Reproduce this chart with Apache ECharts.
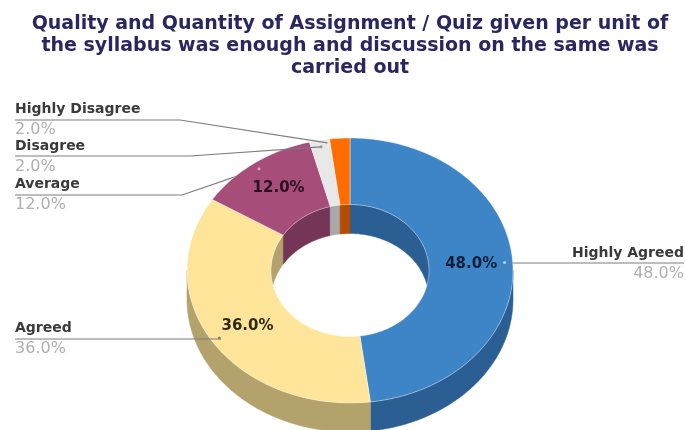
<!DOCTYPE html>
<html><head><meta charset="utf-8">
<style>html,body{margin:0;padding:0;background:#fff}#c{width:685px;height:430px}</style>
<script src="https://cdn.jsdelivr.net/npm/echarts@6/dist/echarts.min.js"></script>
</head><body><div id="c"></div>
<script>
const titleLines = ["Quality and Quantity of Assignment / Quiz given per unit of","the syllabus was enough and discussion on the same was","carried out"];
const categories = ["Highly Agreed","Agreed","Average","Disagree","Highly Disagree"];
const values = [48,36,12,2,2];
const topColors = ["#3d85c6","#ffe599","#a64d79","#e8e8e8","#ff6d01"];
const wallColors = ["#2b5f94","#b3a26b","#743556","#a8a8a8","#b34c01"];
const valueLabelColors = ["#0b1f3d","#2e2a1a","#2a0f20",null,null];
const leaderOverSlice = [false,true,false,true,true];
const leaderReach = [1,1,1,1,.92];
const tipDotColors = ["#b5d3ee","#8a8468","#e9a9c9","#8f979b",null];
const labelAnchors = [
  {side:"right",lineY:263,elbow:505,nameY:253,valY:274},
  {side:"left",lineY:339,elbow:220,nameY:328,valY:349},
  {side:"left",lineY:195,elbow:182,nameY:184,valY:205},
  {side:"left",lineY:156,elbow:190,nameY:146,valY:167},
  {side:"left",lineY:120,elbow:180,nameY:109,valY:130}
];
const G = {cx:350,cy:270.5,rx:163,ry:132.5,irx:79,iry:66,depth:29};
const total = values.reduce((a,b)=>a+b,0);
let run = 0;
const spans = values.map(v=>{const s=[run/total*360,(run+v)/total*360];run+=v;return s;});
const pt=(deg,rx,ry,dy)=>{const a=deg*Math.PI/180;return [G.cx+rx*Math.sin(a),G.cy-ry*Math.cos(a)+(dy||0)];};
function arc(a,b,rx,ry,dy){const n=Math.max(2,Math.ceil(Math.abs(b-a)));const o=[];for(let i=0;i<=n;i++)o.push(pt(a+(b-a)*i/n,rx,ry,dy));return o;}
const band=(a,b,rx1,ry1,d1,rx2,ry2,d2)=>arc(a,b,rx1,ry1,d1).concat(arc(b,a,rx2,ry2,d2));

function outerWall(p,api){
  const a=Math.max(api.value(0),90),b=Math.min(api.value(1),270);
  if(b<=a) return {type:'group',children:[]};
  return {type:'polygon',shape:{points:band(a,b,G.rx,G.ry,0,G.rx,G.ry,G.depth)},style:{fill:wallColors[p.dataIndex],stroke:wallColors[p.dataIndex],lineWidth:.5}};
}
function innerWall(p,api){
  const s=api.value(0),e=api.value(1),kids=[];
  [[s,Math.min(e,90)],[Math.max(s,270),e]].forEach(r=>{
    if(r[1]>r[0]) kids.push({type:'polygon',shape:{points:band(r[0],r[1],G.irx,G.iry,0,G.irx,G.iry,G.depth)},style:{fill:wallColors[p.dataIndex],stroke:wallColors[p.dataIndex],lineWidth:.5}});
  });
  return {type:'group',children:kids};
}
function topFace(p,api){
  return {type:'polygon',shape:{points:band(api.value(0),api.value(1),G.rx,G.ry,0,G.irx,G.iry,0)},style:{fill:topColors[p.dataIndex],stroke:'#ffffff',lineWidth:.4}};
}
function leaderPath(i,mid){
  const A=labelAnchors[i],right=A.side==='right',edgeX=right?684:15;
  const tip=pt(mid,G.rx*.95,G.ry*.95),r=leaderReach[i];
  const end=[A.elbow+(tip[0]-A.elbow)*r,A.lineY+(tip[1]-A.lineY)*r];
  return {tip:tip,points:[[edgeX,A.lineY],[A.elbow,A.lineY],end]};
}
const leaderLine=pts=>({type:'polyline',shape:{points:pts},style:{fill:null,stroke:'#7d7d7d',lineWidth:1.2}});
function leadersUnder(p,api){
  const i=p.dataIndex;
  if(leaderOverSlice[i]) return {type:'group',children:[]};
  return leaderLine(leaderPath(i,(api.value(0)+api.value(1))/2).points);
}
function labels(p,api){
  const i=p.dataIndex,mid=(api.value(0)+api.value(1))/2,A=labelAnchors[i],right=A.side==='right';
  const edgeX=right?684:15,kids=[],L=leaderPath(i,mid);
  if(leaderOverSlice[i]) kids.push(leaderLine(L.points));
  if(tipDotColors[i]) kids.push({type:'circle',shape:{cx:L.tip[0],cy:L.tip[1],r:1.5},style:{fill:tipDotColors[i]}});
  const align=right?'right':'left';
  kids.push({type:'text',style:{x:edgeX,y:A.nameY,text:categories[i],align:align,verticalAlign:'middle',font:'bold 14px "DejaVu Sans"',fill:'#3a3a3a'}});
  kids.push({type:'text',style:{x:edgeX,y:A.valY,text:values[i].toFixed(1)+'%',align:align,verticalAlign:'middle',font:'16px "DejaVu Sans"',fill:'#b0b0b0'}});
  if(valueLabelColors[i]){
    const c=pt(mid,G.rx*.745,G.ry*.77);
    kids.push({type:'text',style:{x:c[0],y:c[1]+.5,text:values[i].toFixed(1)+'%',align:'center',verticalAlign:'middle',font:'bold 15px "DejaVu Sans"',fill:valueLabelColors[i]}});
  }
  return {type:'group',children:kids};
}
const data=spans.map(s=>[s[0],s[1]]);
const layer=(fn,z)=>({type:'custom',coordinateSystem:'none',renderItem:fn,data:data,z:z,silent:true,animation:false,clip:false});
const chart=echarts.init(document.getElementById('c'),null,{renderer:'canvas'});
chart.setOption({
  animation:false,backgroundColor:'#ffffff',
  title:{text:titleLines.join('\n'),left:345,top:8,textAlign:'center',
    textStyle:{fontFamily:'DejaVu Sans',fontWeight:'bold',fontSize:19,lineHeight:22,color:'#2a2660'}},
  series:[layer(outerWall,1),layer(innerWall,2),layer(leadersUnder,3),layer(topFace,4),layer(labels,5)]
});
</script></body></html>
